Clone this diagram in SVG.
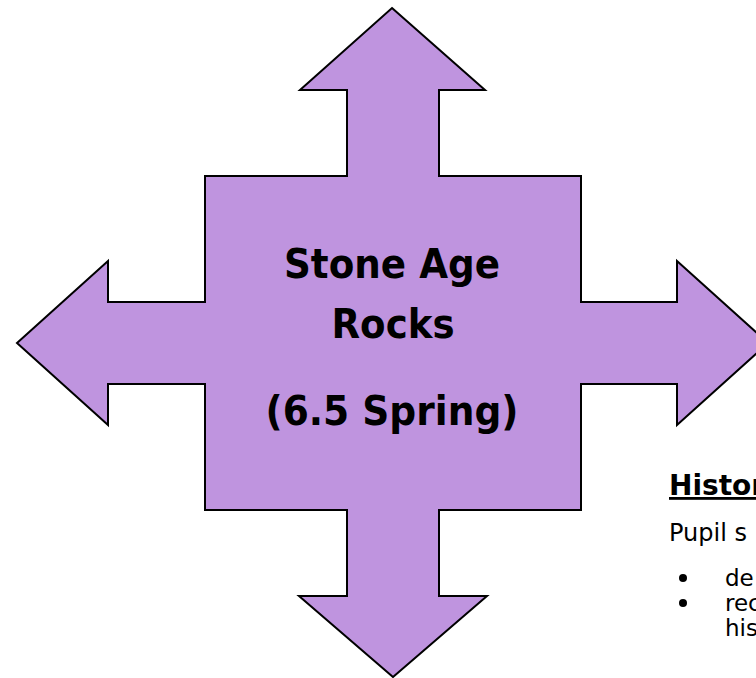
<svg xmlns="http://www.w3.org/2000/svg" width="756" height="678" viewBox="0 0 756 678">
<style>
.arrow{fill:#bf94df;stroke:#000;stroke-width:2;stroke-linejoin:miter}
.title{font-family:"DejaVu Sans","Liberation Sans",sans-serif;font-weight:bold;font-size:41px;fill:#000;text-anchor:middle}
.head{font-family:"DejaVu Sans","Liberation Sans",sans-serif;font-weight:bold;font-size:28px;fill:#000;text-decoration:underline}
.body{font-family:"DejaVu Sans","Liberation Sans",sans-serif;font-size:24px;fill:#000}
.item{font-family:"DejaVu Sans","Liberation Sans",sans-serif;font-size:23px;fill:#000}
</style>
<rect width="756" height="678" fill="#fff"/>
<g id="quad-arrow">
<path class="arrow" d="M392,8 L485,90 L439,90 L439,176 L581,176 L581,302 L677,302 L677,261 L768,343 L677,425 L677,384 L581,384 L581,510 L439,510 L439,596 L487,596 L393,677 L299,596 L347,596 L347,510 L205,510 L205,384 L108,384 L108,425 L17,343 L108,261 L108,302 L205,302 L205,176 L347,176 L347,90 L300,90 Z"/>
<text class="title" x="392" y="278" textLength="216" lengthAdjust="spacingAndGlyphs">Stone Age</text>
<text class="title" x="393" y="338" textLength="123" lengthAdjust="spacingAndGlyphs">Rocks</text>
<text class="title" x="392" y="425" textLength="253" lengthAdjust="spacingAndGlyphs">(6.5 Spring)</text>
</g>
<g id="history-text">
<text class="head" x="669" y="495">Histor</text>
<text class="body" x="669" y="541">Pupil s</text>
<circle cx="683" cy="578" r="4" fill="#000"/>
<text class="item" x="725" y="586">de</text>
<circle cx="683" cy="603" r="4" fill="#000"/>
<text class="item" x="725" y="611">rec</text>
<text class="item" x="725" y="636">his</text>
</g>
</svg>
